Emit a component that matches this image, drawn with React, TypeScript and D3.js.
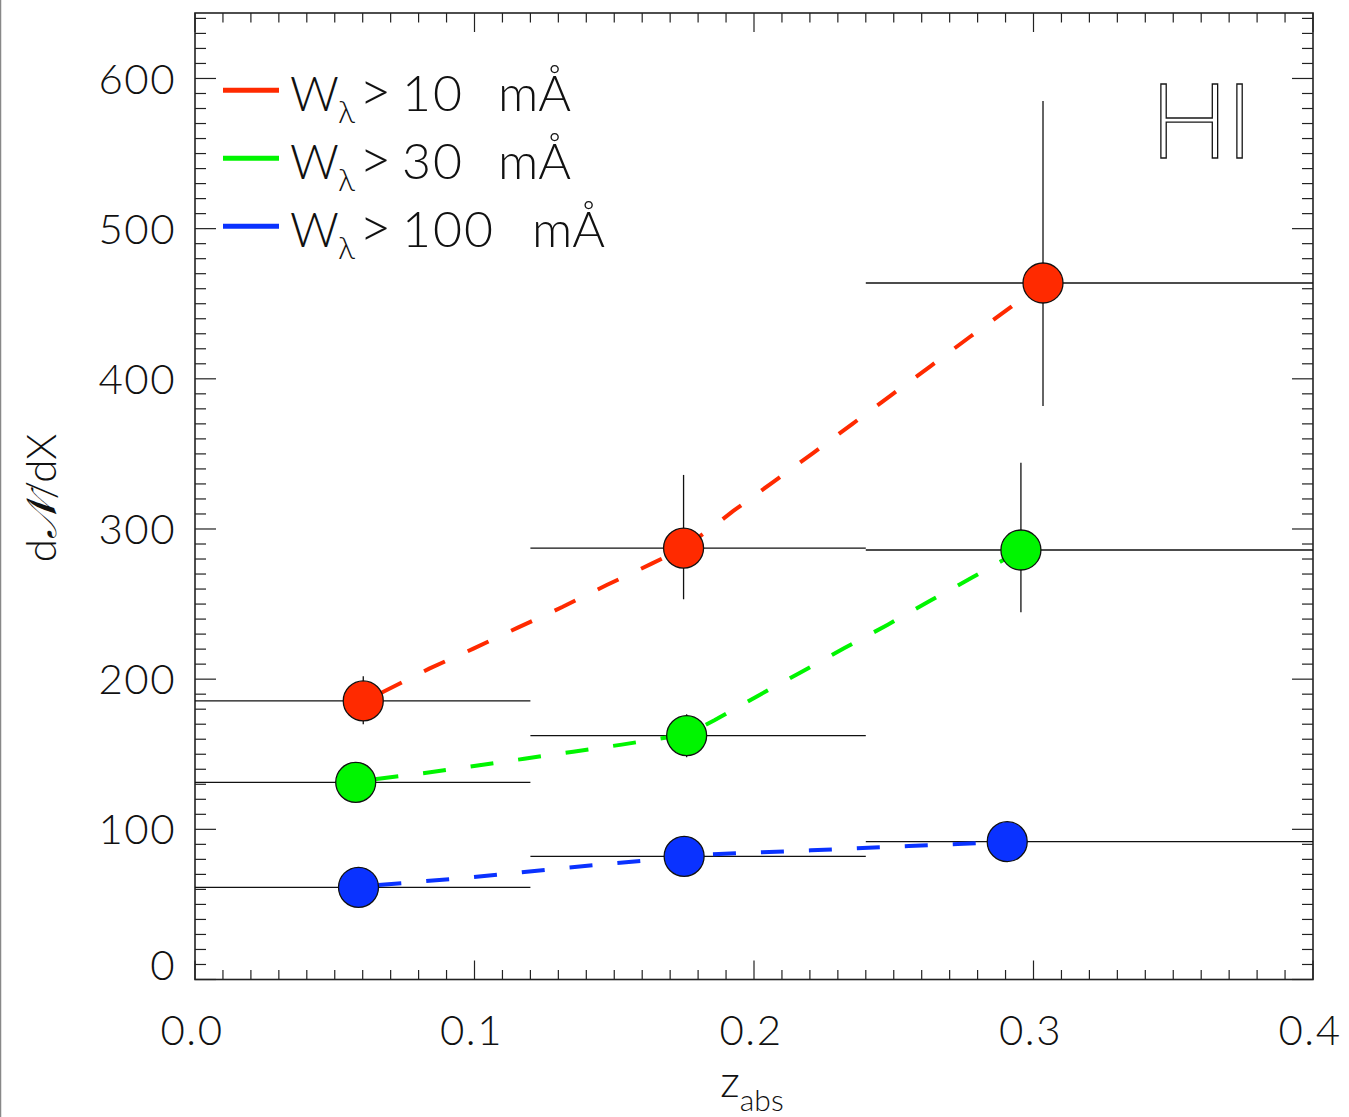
import React from "react";
import * as d3 from "d3";

// ---- data ----
const binEdges = [0, 0.12, 0.24, 0.4];

const zRed = [0.0602, 0.1748, 0.3034];
const nRed = [185.5, 287.3, 463.8];
const loRed = [170, 253.2, 381.9];
const hiRed = [202, 336, 585];

const zGreen = [0.0575, 0.1759, 0.2955];
const nGreen = [131.3, 162.4, 286.0];
const loGreen = [119, 148, 244.5];
const hiGreen = [143, 176.6, 344.1];

const zBlue = [0.0585, 0.175, 0.2906];
const nBlue = [61.4, 82.0, 91.8];
const loBlue = [53, 73, 83];
const hiBlue = [70, 91, 100];

const fitRedZ = [0.0602, 0.0674, 0.0838, 0.0996, 0.1155, 0.1316, 0.1473, 0.1634, 0.1748, 0.1857, 0.1926, 0.2067, 0.221, 0.235, 0.249, 0.2632, 0.2773, 0.2916, 0.3034];
const fitRedN = [185.0, 191.6, 207.0, 220.3, 234.3, 248.2, 262.7, 276.9, 287.3, 302.0, 312.0, 331.1, 350.4, 369.7, 389.0, 408.5, 428.0, 447.4, 463.8];

const fitGreenZ = [0.0575, 0.065, 0.0829, 0.1005, 0.1178, 0.1353, 0.1527, 0.1682, 0.1759, 0.186, 0.2015, 0.2168, 0.2322, 0.2477, 0.263, 0.2782, 0.2892, 0.2955];
const fitGreenN = [131.3, 133.5, 137.7, 142.4, 147.0, 151.7, 156.4, 161.0, 163.0, 172.8, 189.0, 204.6, 220.5, 236.1, 252.2, 267.8, 279.3, 286.0];

const fitBlueZ = [0.0585, 0.0655, 0.0977, 0.1327, 0.1656, 0.175, 0.1853, 0.2203, 0.2554, 0.2729, 0.2906];
const fitBlueN = [61.4, 62.9, 67.8, 74.4, 80.0, 81.5, 83.4, 86.0, 88.9, 90.2, 91.8];

const legendThresholds = ["10", "30", "100"];
const xTickLabels = ["0.0", "0.1", "0.2", "0.3", "0.4"];
const xTickValues = [0, 0.1, 0.2, 0.3, 0.4];
const yTickValues = [0, 100, 200, 300, 400, 500, 600];

const W = 1349;
const H = 1117;
const L = 195, R = 1313, T = 13, B = 979.5;
const FONT = "Lato, 'Noto Sans', 'DejaVu Sans', sans-serif";

export default function App() {
  const x = d3.scaleLinear().domain([0, 0.4]).range([L, R]);
  const y = d3.scaleLinear().domain([0, 643.6]).range([B, T]);

  const series = [
    { color: "#ff2a00", z: zRed, n: nRed, lo: loRed, hi: hiRed, fz: fitRedZ, fn: fitRedN },
    { color: "#00f500", z: zGreen, n: nGreen, lo: loGreen, hi: hiGreen, fz: fitGreenZ, fn: fitGreenN },
    { color: "#0a32ff", z: zBlue, n: nBlue, lo: loBlue, hi: hiBlue, fz: fitBlueZ, fn: fitBlueN },
  ];

  const line = d3
    .line<[number, number]>()
    .x((d) => x(d[0]))
    .y((d) => y(d[1]))
    .curve(d3.curveLinear);

  const xMinor = d3.range(0, 40.5, 1).map((v) => v / 100);
  const yMinor = d3.range(0, 641, 10);

  return (
    <svg
      width={W}
      height={H}
      style={{ position: "absolute", left: 0, top: 0, background: "#fff" }}
      fontFamily={FONT}
      fontWeight={300}
    >
      <rect x={0} y={0} width={W} height={H} fill="#fff" />
      <line x1={0.5} x2={0.5} y1={0} y2={H} stroke="#888" strokeWidth={1.5} />

      <defs>
        <clipPath id="plotclip">
          <rect x={L} y={T} width={R - L} height={B - T} />
        </clipPath>
      </defs>

      {/* ticks */}
      <g stroke="#222" strokeWidth={1.2}>
        {xMinor.map((v, i) => {
          const major = Math.round(v * 100) % 10 === 0;
          const len = major ? 19 : 9.5;
          return (
            <g key={"xt" + i}>
              <line x1={x(v)} x2={x(v)} y1={B} y2={B - len} />
              <line x1={x(v)} x2={x(v)} y1={T} y2={T + len} />
            </g>
          );
        })}
        {yMinor.map((v, i) => {
          const major = v % 100 === 0;
          const len = major ? 21 : 11;
          return (
            <g key={"yt" + i}>
              <line x1={L} x2={L + len} y1={y(v)} y2={y(v)} />
              <line x1={R} x2={R - len} y1={y(v)} y2={y(v)} />
            </g>
          );
        })}
      </g>

      {/* axes frame */}
      <rect x={L} y={T} width={R - L} height={B - T} fill="none" stroke="#222" strokeWidth={1.6} />

      {/* tick labels */}
      <g fontSize={42} fill="#111" letterSpacing={1.5}>
        {xTickValues.map((v, i) => (
          <text key={"xl" + i} x={x(v) - 3} y={1045} textAnchor="middle">
            {xTickLabels[i]}
          </text>
        ))}
        {yTickValues.map((v, i) => (
          <text key={"yl" + i} x={176} y={y(v) + (v === 0 ? -15 : 0)} dy="0.36em" textAnchor="end">
            {String(v)}
          </text>
        ))}
      </g>

      {/* axis titles */}
      <text fontSize={42} fill="#111" transform={`translate(56,${498}) rotate(-90)`} textAnchor="middle">
        d<tspan fontFamily="'DejaVu Serif', serif" fontStyle="italic">𝒩</tspan>/dX
      </text>
      <text x={752} y={1097} textAnchor="middle" fill="#111">
        <tspan fontSize={44}>z</tspan>
        <tspan fontSize={30} dy={14}>abs</tspan>
      </text>

      <g clipPath="url(#plotclip)">
        {/* error bars */}
        <g stroke="#111" strokeWidth={1.3}>
          {series.map((s, si) =>
            s.z.map((z, i) => (
              <g key={"eb" + si + "-" + i}>
                <line x1={x(binEdges[i])} x2={x(binEdges[i + 1])} y1={y(s.n[i])} y2={y(s.n[i])} />
                <line x1={x(z)} x2={x(z)} y1={y(s.lo[i])} y2={y(s.hi[i])} />
              </g>
            ))
          )}
        </g>
        {/* fits */}
        {series.map((s, si) => (
          <path
            key={"fit" + si}
            d={line(s.fz.map((z, i) => [z, s.fn[i]] as [number, number])) || ""}
            fill="none"
            stroke={s.color}
            strokeWidth={4}
            strokeDasharray="23 25"
            strokeDashoffset={-20}
          />
        ))}
        {/* points */}
        {series.map((s, si) =>
          s.z.map((z, i) => (
            <circle
              key={"pt" + si + "-" + i}
              cx={x(z)}
              cy={y(s.n[i])}
              r={20}
              fill={s.color}
              stroke="#111"
              strokeWidth={1.3}
            />
          ))
        )}
      </g>

      {/* legend */}
      {series.map((s, i) => {
        const base = 110.7 + i * 68;
        const wide = legendThresholds[i].length > 2;
        return (
          <g key={"lg" + i}>
            <line x1={223} x2={279} y1={base - 20.5} y2={base - 20.5} stroke={s.color} strokeWidth={5} />
            <text fill="#111" fontSize={50}>
              <tspan x={290} y={base} fontSize={48}>W</tspan>
              <tspan x={338} y={base + 12} fontSize={32}>λ</tspan>
              <tspan x={359} y={base} fontSize={56}>&gt;</tspan>
              <tspan x={402} y={base} letterSpacing={2}>{legendThresholds[i]}</tspan>
              <tspan x={wide ? 532 : 498} y={base}>mÅ</tspan>
            </text>
          </g>
        );
      })}

      {/* HI label */}
      <text fontSize={104} fill="#fff" stroke="#111" strokeWidth={1.3}>
        <tspan x={1150} y={158}>H</tspan>
        <tspan x={1226} y={158}>I</tspan>
      </text>
    </svg>
  );
}
